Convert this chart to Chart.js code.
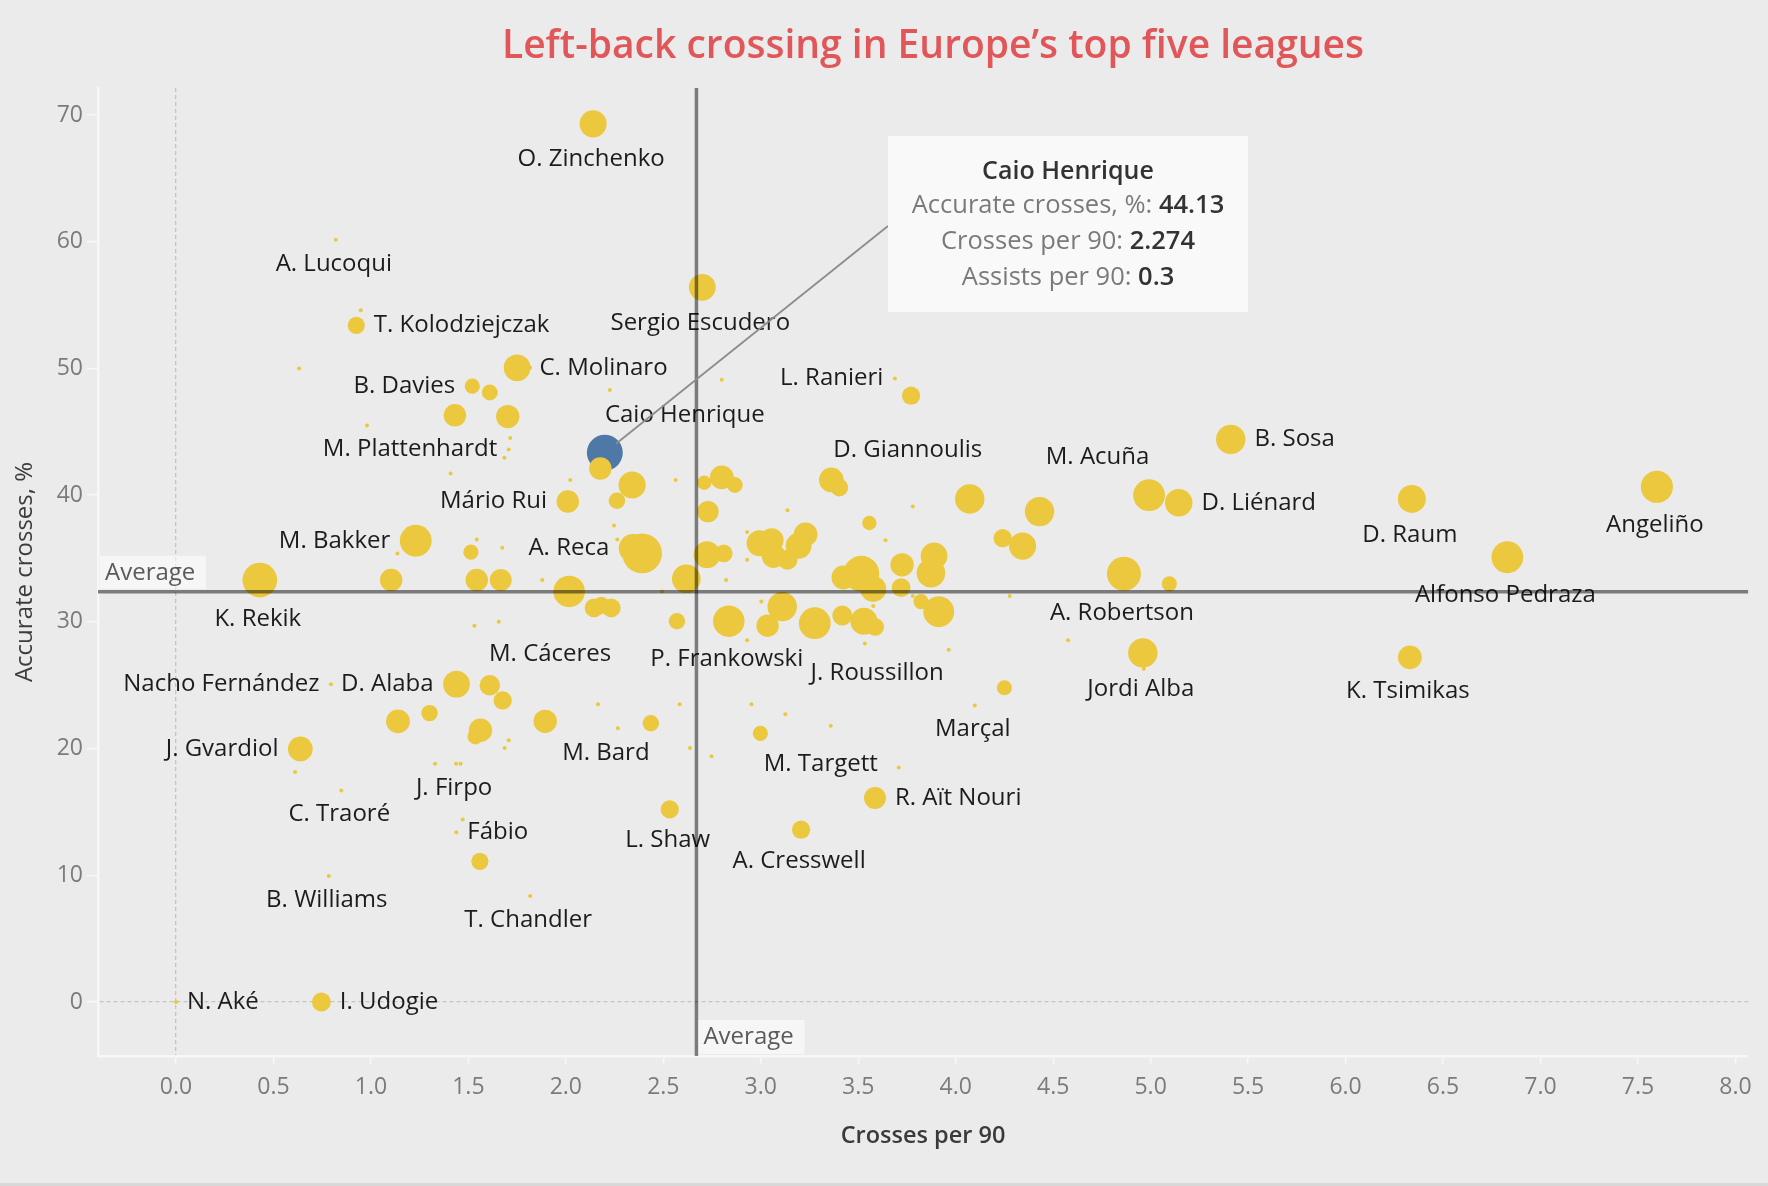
<!DOCTYPE html>
<html>
<head>
<meta charset="utf-8">
<script src="https://cdn.jsdelivr.net/npm/chart.js@4.4.0/dist/chart.umd.min.js"></script>
<style>
  html, body { margin: 0; padding: 0; background: #ebebeb; }
  #wrap { position: relative; width: 1768px; height: 1186px; }
  #strip { position: absolute; left: 0; right: 0; bottom: 0; height: 3px; background: #d8d8d8; }
</style>
</head>
<body>
<div id="wrap">
  <canvas id="chart" width="1768" height="1186"></canvas>
  <div id="strip"></div>
</div>
<script>
// one entry per left-back; '' = point drawn without a label
const players = [
  'O. Zinchenko', 'A. Lucoqui', 'T. Kolodziejczak', 'Sergio Escudero', 'C. Molinaro',
  'B. Davies', 'M. Plattenhardt', 'Caio Henrique', 'Mário Rui', 'M. Bakker',
  'A. Reca', 'K. Rekik', 'M. Cáceres', 'P. Frankowski', 'J. Roussillon',
  'A. Robertson', 'Jordi Alba', 'Marçal', 'M. Targett', 'R. Aït Nouri',
  'L. Shaw', 'A. Cresswell', 'T. Chandler', 'B. Williams', 'N. Aké',
  'I. Udogie', 'Fábio', 'C. Traoré', 'J. Firpo', 'J. Gvardiol',
  'Nacho Fernández', 'D. Alaba', 'M. Bard', 'D. Giannoulis', 'L. Ranieri',
  'M. Acuña', 'B. Sosa', 'D. Liénard', 'D. Raum', 'Angeliño',
  'Alfonso Pedraza', 'K. Tsimikas'
];
const crosses = [
  2.14, 0.82, 0.925, 2.70, 1.75,
  1.52, 1.707, 2.20, 2.01, 1.23,
  2.345, 0.43, 2.017, 2.836, 3.587,
  4.863, 4.96, 4.098, 3.708, 3.586,
  2.533, 3.207, 1.817, 0.784, 0,
  0.746, 1.438, 0.848, 1.437, 0.638,
  0.795, 1.439, 2.267, 4.072, 3.688,
  4.992, 5.411, 5.144, 6.34, 7.597,
  6.83, 6.33,
  // unlabelled
  0.948, 1.817, 0.632, 3.771, 2.80, 2.226, 1.61, 1.431, 1.702, 0.98,
  1.715, 1.685, 1.409, 2.177, 2.023, 2.34, 2.563, 2.262, 2.247, 2.264,
  1.543, 1.674, 1.513, 1.136, 2.391, 2.71, 2.80, 2.867, 2.729, 3.137,
  3.362, 3.403, 2.994, 3.056, 3.066, 3.137, 3.194, 3.23, 2.93, 2.93,
  3.557, 3.78, 3.64, 4.43, 4.241, 4.343, 3.424, 3.516, 3.577, 3.725,
  3.889, 3.873, 3.72, 3.78, 3.577, 4.277, 3.822, 3.913, 3.529, 3.418,
  3.534, 3.964, 5.096, 4.577, 4.965, 4.25, 1.104, 1.543, 1.666, 1.879,
  2.145, 2.182, 2.233, 2.494, 2.618, 2.724, 2.81, 2.822, 2.57, 2.93,
  3.003, 3.035, 3.11, 3.277, 1.531, 1.656, 1.61, 1.676, 1.139, 1.301,
  1.562, 1.536, 1.894, 1.707, 1.686, 2.165, 2.436, 2.584, 2.637, 2.747,
  2.952, 3.126, 2.998, 3.359, 1.329, 1.46, 1.471, 1.559, 0.611
];
const accuracy = [
  69.3, 60.15, 53.4, 56.4, 50.05,
  48.6, 43.6, 43.35, 39.5, 36.4,
  35.8, 33.3, 32.4, 30.05, 29.6,
  33.8, 27.55, 23.4, 18.5, 16.1,
  15.2, 13.6, 8.36, 9.94, 0,
  0, 13.4, 16.7, 18.8, 19.97,
  25.08, 25.08, 21.6, 39.7, 49.2,
  40.0, 44.4, 39.4, 39.7, 40.66,
  35.1, 27.2,
  // unlabelled
  54.6, 50.05, 50.0, 47.85, 49.1, 48.3, 48.1, 46.3, 46.2, 45.5,
  44.5, 42.95, 41.7, 42.1, 41.2, 40.8, 41.2, 39.56, 37.6, 36.5,
  36.5, 35.85, 35.5, 35.4, 35.4, 40.98, 41.4, 40.8, 38.7, 38.8,
  41.2, 40.6, 36.2, 36.45, 35.2, 34.9, 36.0, 36.9, 37.1, 34.9,
  37.8, 39.1, 36.45, 38.7, 36.6, 35.98, 33.5, 33.8, 32.6, 34.5,
  35.2, 33.85, 32.7, 32.05, 31.26, 32.05, 31.6, 30.8, 30.05, 30.5,
  28.3, 27.8, 33.0, 28.55, 26.3, 24.8, 33.3, 33.3, 33.3, 33.3,
  31.1, 31.3, 31.1, 32.4, 33.4, 35.3, 35.4, 33.3, 30.05, 28.55,
  31.6, 29.7, 31.2, 29.9, 29.7, 30.0, 25.0, 23.8, 22.15, 22.8,
  21.45, 20.95, 22.15, 20.65, 20.05, 23.5, 22.0, 23.5, 20.05, 19.4,
  23.5, 22.7, 21.2, 21.8, 18.8, 18.8, 14.4, 11.1, 18.15
];
const assists = [
  0.17, 0, 0.065, 0.165, 0.165,
  0.05, 0, 0.3, 0.115, 0.235,
  0.19, 0.28, 0.23, 0.23, 0.07,
  0.27, 0.2, 0, 0, 0.11,
  0.075, 0.075, 0, 0, 0,
  0.08, 0, 0, 0, 0.14,
  0, 0.165, 0, 0.2, 0,
  0.235, 0.2, 0.175, 0.18, 0.24,
  0.235, 0.13,
  // unlabelled
  0, 0, 0, 0.075, 0, 0, 0.055, 0.115, 0.125, 0,
  0, 0, 0, 0.115, 0, 0.17, 0, 0.06, 0, 0,
  0, 0, 0.05, 0, 0.37, 0.045, 0.13, 0.055, 0.105, 0,
  0.14, 0.07, 0.155, 0.13, 0.13, 0.09, 0.155, 0.13, 0, 0,
  0.045, 0, 0, 0.2, 0.075, 0.17, 0.13, 0.3, 0.155, 0.125,
  0.165, 0.19, 0.08, 0, 0, 0, 0.05, 0.22, 0.17, 0.09,
  0, 0, 0.05, 0, 0, 0.05, 0.115, 0.115, 0.11, 0,
  0.08, 0.065, 0.08, 0, 0.19, 0.165, 0.07, 0, 0.06, 0,
  0, 0.115, 0.2, 0.235, 0, 0, 0.095, 0.075, 0.13, 0.06,
  0.125, 0.055, 0.125, 0, 0, 0, 0.06, 0, 0, 0,
  0, 0, 0.05, 0, 0, 0, 0, 0.065, 0
];

const xTickValues = [0, 0.5, 1, 1.5, 2, 2.5, 3, 3.5, 4, 4.5, 5, 5.5, 6, 6.5, 7, 7.5, 8];
const yTickValues = [0, 10, 20, 30, 40, 50, 60, 70];
const avgCrosses = 2.67;
const avgAccuracy = 32.38;

const highlight = 'Caio Henrique';
const tooltipRows = [
  ['Accurate crosses, %: ', '44.13'],
  ['Crosses per 90: ', '2.274'],
  ['Assists per 90: ', '0.3']
];

// where each name sits relative to its circle
const labelPlace = {
  'T. Kolodziejczak': 'right', 'C. Molinaro': 'right', 'R. Aït Nouri': 'right', 'N. Aké': 'right',
  'I. Udogie': 'right', 'Fábio': 'right', 'B. Sosa': 'right', 'D. Liénard': 'right',
  'B. Davies': 'left', 'M. Plattenhardt': 'left', 'Mário Rui': 'left', 'M. Bakker': 'left',
  'A. Reca': 'left', 'J. Gvardiol': 'left', 'Nacho Fernández': 'left', 'D. Alaba': 'left',
  'L. Ranieri': 'left',
  'Caio Henrique': [80, -38], 'M. Cáceres': [-19, 63], 'J. Roussillon': [2, 46],
  'M. Targett': [-78, -3.5], 'M. Bard': [-12, 25], 'D. Giannoulis': [-62, -49],
  'M. Acuña': [-51.5, -37.5]
};

const FONT = '"Open Sans", "Noto Sans", sans-serif';
const GOLD = '#ebc83d';
const BLUE = '#4e78a6';

function radiusFor(a) {
  return Math.sqrt(4 + 1060 * a);
}

const points = crosses.map((c, i) => ({ x: c, y: accuracy[i] }));

const decorations = {
  id: 'decorations',
  beforeDraw(chart) {
    const ctx = chart.ctx;
    ctx.save();
    ctx.font = '600 39px ' + FONT;
    ctx.fillStyle = '#e15759';
    ctx.textAlign = 'center';
    ctx.textBaseline = 'alphabetic';
    ctx.fillText('Left-back crossing in Europe\u2019s top five leagues', 933, 58);
    ctx.restore();
  },
  afterDatasetsDraw(chart) {
    const { ctx, chartArea: area, scales: { x, y } } = chart;
    ctx.save();

    // player names
    ctx.font = '24px ' + FONT;
    ctx.fillStyle = '#1c1c1c';
    ctx.textBaseline = 'middle';
    players.forEach((name, i) => {
      if (!name) return;
      const px = x.getPixelForValue(crosses[i]);
      const py = y.getPixelForValue(accuracy[i]);
      const r = radiusFor(assists[i]);
      const place = labelPlace[name] || 'below';
      let tx, ty, align = 'center';
      if (place === 'right') { tx = px + r + 9; ty = py; align = 'left'; }
      else if (place === 'left') { tx = px - r - 9.5; ty = py; align = 'right'; }
      else if (place === 'below') { tx = px - 2; ty = py + r + 22; }
      else { tx = px + place[0]; ty = py + place[1]; }
      ctx.textAlign = align;
      ctx.fillText(name, tx, ty);
    });

    // average reference lines
    const ax = x.getPixelForValue(avgCrosses);
    const ay = y.getPixelForValue(avgAccuracy);
    ctx.strokeStyle = 'rgba(0,0,0,0.48)';
    ctx.lineWidth = 3.5;
    ctx.beginPath();
    ctx.moveTo(ax, area.top);
    ctx.lineTo(ax, area.bottom);
    ctx.stroke();
    ctx.beginPath();
    ctx.moveTo(area.left, ay);
    ctx.lineTo(area.right, ay);
    ctx.stroke();

    ctx.font = '24px ' + FONT;
    ctx.textAlign = 'left';
    ctx.fillStyle = 'rgba(255,255,255,0.55)';
    ctx.fillRect(area.left + 2, ay - 36, 106, 33);
    ctx.fillRect(ax + 2, area.bottom - 36, 106, 34);
    ctx.fillStyle = '#5a5a5a';
    ctx.fillText('Average', area.left + 7, ay - 19);
    ctx.fillText('Average', ax + 7, area.bottom - 19);

    // tooltip for the highlighted player
    const hi = players.indexOf(highlight);
    const hx = x.getPixelForValue(crosses[hi]);
    const hy = y.getPixelForValue(accuracy[hi]);
    const box = { left: 888, top: 136, width: 360, height: 176 };
    const ex = box.left, ey = 226;
    const len = Math.hypot(ex - hx, ey - hy);
    const sr = radiusFor(assists[hi]) * 0.8;
    ctx.strokeStyle = '#8c8c8c';
    ctx.lineWidth = 1.8;
    ctx.beginPath();
    ctx.moveTo(hx + (ex - hx) / len * sr, hy + (ey - hy) / len * sr);
    ctx.lineTo(ex, ey);
    ctx.stroke();

    ctx.fillStyle = 'rgba(250,250,250,0.94)';
    ctx.fillRect(box.left, box.top, box.width, box.height);
    const cx = box.left + box.width / 2;
    ctx.textAlign = 'center';
    ctx.fillStyle = '#333333';
    ctx.font = '600 25px ' + FONT;
    ctx.fillText(highlight, cx, 172);
    tooltipRows.forEach((row, k) => {
      const rowY = 206 + k * 36;
      ctx.font = '25.5px ' + FONT;
      const w1 = ctx.measureText(row[0]).width;
      ctx.font = '600 25.5px ' + FONT;
      const w2 = ctx.measureText(row[1]).width;
      const start = cx - (w1 + w2) / 2;
      ctx.textAlign = 'left';
      ctx.font = '25.5px ' + FONT;
      ctx.fillStyle = '#7a7a7a';
      ctx.fillText(row[0], start, rowY);
      ctx.font = '600 25.5px ' + FONT;
      ctx.fillStyle = '#333333';
      ctx.fillText(row[1], start + w1, rowY);
    });
    ctx.restore();
  }
};

const tickFont = { family: FONT, size: 23 };

new Chart(document.getElementById('chart'), {
  type: 'scatter',
  data: {
    datasets: [{
      data: points,
      pointRadius: c => radiusFor(assists[c.dataIndex]),
      pointBackgroundColor: c => players[c.dataIndex] === highlight ? BLUE : GOLD,
      pointBorderWidth: 0,
      pointHoverRadius: c => radiusFor(assists[c.dataIndex])
    }]
  },
  options: {
    responsive: false,
    animation: false,
    devicePixelRatio: 1,
    events: [],
    layout: { padding: { top: 88, right: 14, left: 0, bottom: 0 } },
    plugins: { legend: { display: false }, tooltip: { enabled: false } },
    scales: {
      x: {
        type: 'linear',
        min: -0.4,
        max: 8.065,
        afterFit: s => { s.height = 130; },
        afterBuildTicks: s => { s.ticks = xTickValues.map(v => ({ value: v })); },
        ticks: {
          callback: v => Number(v).toFixed(1),
          color: '#7b7b7b',
          font: tickFont,
          padding: 10,
          maxRotation: 0,
          autoSkip: false
        },
        grid: {
          color: c => (c.tick && c.tick.value === 0 ? '#c4c4c4' : 'rgba(0,0,0,0)'),
          lineWidth: 1.3,
          tickColor: '#f7f7f7',
          tickLength: 8,
          tickWidth: 1.5
        },
        border: { color: '#f7f7f7', width: 2.5, dash: [4, 3] },
        title: {
          display: true,
          text: 'Crosses per 90',
          color: '#3a3a3a',
          font: { family: FONT, size: 23.5, weight: '600' },
          padding: { top: 0, bottom: 36 }
        }
      },
      y: {
        type: 'linear',
        min: -4.26,
        max: 72.13,
        afterFit: s => { s.width = 98; },
        afterBuildTicks: s => { s.ticks = yTickValues.map(v => ({ value: v })); },
        ticks: {
          color: '#7b7b7b',
          font: tickFont,
          padding: 4,
          autoSkip: false
        },
        grid: {
          color: c => (c.tick && c.tick.value === 0 ? '#c4c4c4' : 'rgba(0,0,0,0)'),
          lineWidth: 1.3,
          tickColor: '#f7f7f7',
          tickLength: 11,
          tickWidth: 1.5
        },
        border: { color: '#f7f7f7', width: 2.5, dash: [4, 3] },
        title: {
          display: true,
          text: 'Accurate crosses, %',
          color: '#3c3c3c',
          font: { family: FONT, size: 24 },
          padding: { top: 11, bottom: 0 }
        }
      }
    }
  },
  plugins: [decorations]
});
</script>
</body>
</html>
